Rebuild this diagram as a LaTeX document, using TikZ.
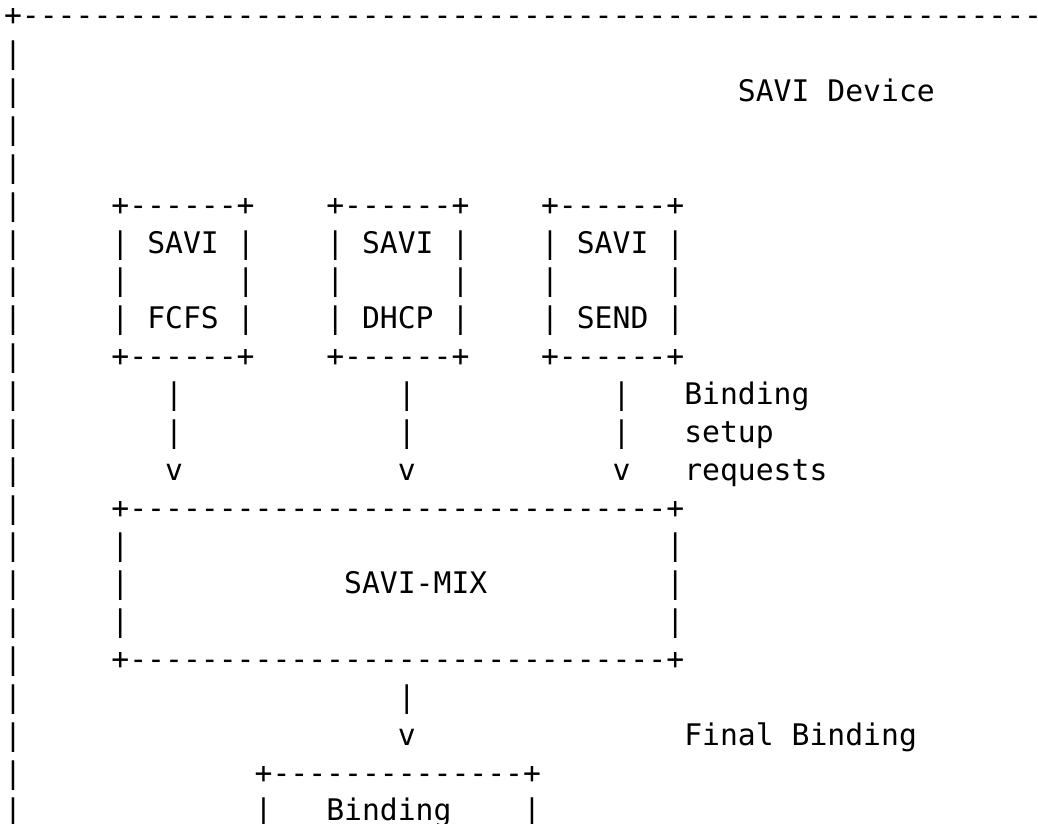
\documentclass[tikz,border=0pt]{standalone}
\usepackage{fontspec}
\setmonofont{DejaVu Sans Mono}
\newcommand\asc[4]{\node[ch] (#1) at ({#2-0.5},{#3+0.288}) {#4};}
\begin{document}
\begin{tikzpicture}[x=17.9pt,y=-37.86pt,
  ch/.style={anchor=base west, inner sep=0pt, outer sep=0pt,
    font=\ttfamily\fontsize{29.73pt}{37.86pt}\selectfont, text=black}]
\useasboundingbox (-0.7263,-0.3962) rectangle (57.263,21.368);
% outer device frame
\asc{top}{0}{0}{+---------------------------------------------------------}
\foreach \r in {1,...,21} { \asc{frame\r}{0}{\r}{|} }
\asc{device}{41}{2}{SAVI Device}
% three SAVI boxes
\foreach \c/\n/\t in {6/fcfs/FCFS,18/dhcp/DHCP,30/send/SEND} {
  \asc{\n top}{\c}{5}{+------+}
  \asc{\n l6}{\c}{6}{|}
  \asc{\n a}{\c+2}{6}{SAVI}
  \asc{\n r6}{\c+7}{6}{|}
  \asc{\n l7}{\c}{7}{|}
  \asc{\n r7}{\c+7}{7}{|}
  \asc{\n l8}{\c}{8}{|}
  \asc{\n b}{\c+2}{8}{\t}
  \asc{\n r8}{\c+7}{8}{|}
  \asc{\n bot}{\c}{9}{+------+}
}
% arrows to SAVI-MIX
\foreach \c/\n in {9/fa,22/da,34/sa} {
  \asc{\n1}{\c}{10}{|}
  \asc{\n2}{\c}{11}{|}
  \asc{\n3}{\c}{12}{v}
}
\asc{lbl1}{38}{10}{Binding}
\asc{lbl2}{38}{11}{setup}
\asc{lbl3}{38}{12}{requests}
% SAVI-MIX box
\asc{mixtop}{6}{13}{+------------------------------+}
\foreach \r in {14,15,16} { \asc{mixl\r}{6}{\r}{|} \asc{mixr\r}{37}{\r}{|} }
\asc{mix}{19}{15}{SAVI-MIX}
\asc{mixbot}{6}{17}{+------------------------------+}
% final arrow
\asc{fin1}{22}{18}{|}
\asc{fin2}{22}{19}{v}
\asc{finlbl}{38}{19}{Final Binding}
% binding box
\asc{bindtop}{14}{20}{+--------------+}
\asc{bindl}{14}{21}{|}
\asc{bind}{18}{21}{Binding}
\asc{bindr}{29}{21}{|}
\end{tikzpicture}
\end{document}
